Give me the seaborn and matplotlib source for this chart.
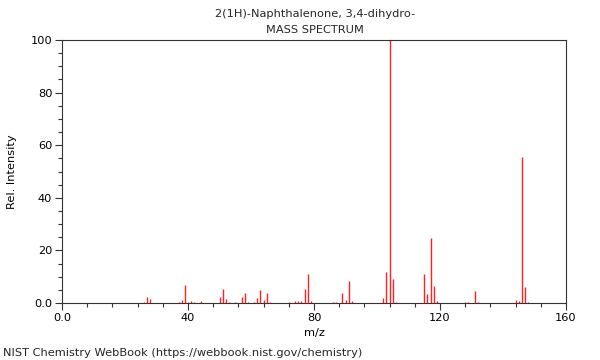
import matplotlib
matplotlib.use("Agg")
import matplotlib.pyplot as plt
import seaborn as sns
import pandas as pd
from matplotlib.ticker import MultipleLocator, FixedLocator

mz = [26, 27, 28, 37, 38, 39, 40, 41, 42, 44, 50, 51, 52, 53, 55, 57, 58, 59,
      61, 62, 63, 64, 65, 66, 72, 74, 75, 76, 77, 78, 79, 86, 87, 89, 90, 91,
      92, 102, 103, 104, 105, 106, 115, 116, 117, 118, 119, 128, 129, 131,
      132, 144, 145, 146, 147, 148]
intensity = [0.4, 2.3, 1.5, 0.5, 1.0, 6.8, 0.5, 0.6, 0.5, 0.8, 2.4, 5.2, 1.5,
             0.5, 0.5, 2.3, 3.8, 0.5, 0.5, 1.8, 4.9, 1.1, 3.9, 0.3, 0.3, 0.8,
             0.8, 0.8, 5.3, 11.2, 0.6, 0.5, 0.5, 3.7, 1.0, 8.2, 0.6, 1.9,
             11.9, 100.0, 9.2, 0.3, 11.1, 3.4, 24.7, 6.6, 0.7, 0.5, 0.5, 4.6,
             0.5, 1.0, 0.7, 55.5, 6.1, 0.5]

title_lines = ["2(1H)-Naphthalenone, 3,4-dihydro-", "MASS SPECTRUM"]
x_ticks = [0, 40, 80, 120, 160]
x_labels = ["0.0", "40", "80", "120", "160"]
y_ticks = [0, 20, 40, 60, 80, 100]
y_labels = ["0.0", "20", "40", "60", "80", "100"]

df = pd.DataFrame({"mz": mz, "intensity": intensity})

sns.set_style("ticks")
plt.rcParams["font.family"] = ["DejaVu Sans"]

FS = 8.2
fig = plt.figure(figsize=(6, 3.6), dpi=100)
ax = fig.add_axes([62 / 600, 1 - 303 / 360, 504 / 600, 263 / 360])

ax.vlines(df["mz"], 0, df["intensity"], color="#ff2020", linewidth=1.0)

ax.set_xlim(0, 160)
ax.set_ylim(0, 100)
ax.xaxis.set_major_locator(FixedLocator(x_ticks))
ax.set_xticklabels(x_labels)
ax.yaxis.set_major_locator(FixedLocator(y_ticks))
ax.set_yticklabels(y_labels)
ax.xaxis.set_minor_locator(MultipleLocator(8))
ax.yaxis.set_minor_locator(MultipleLocator(5))
ax.tick_params(which="major", length=5, width=0.8, labelsize=FS, color="#333333",
               labelcolor="black", pad=2)
ax.tick_params(which="minor", length=3, width=0.8, color="#333333")
for s in ax.spines.values():
    s.set_visible(True)
    s.set_color("#333333")
    s.set_linewidth(0.8)

ax.set_xlabel("m/z", fontsize=FS, labelpad=4, color="black")
ax.set_ylabel("Rel. Intensity", fontsize=FS, labelpad=10, color="black")

fig.text(315 / 600, 1 - 14 / 360, title_lines[0], ha="center", va="center", fontsize=FS)
fig.text(315 / 600, 1 - 30 / 360, title_lines[1], ha="center", va="center", fontsize=FS)
fig.text(3 / 600, 1 - 353 / 360, "NIST Chemistry WebBook (https://webbook.nist.gov/chemistry)",
         ha="left", va="center", fontsize=FS)

fig.savefig("out.png", dpi=100)
